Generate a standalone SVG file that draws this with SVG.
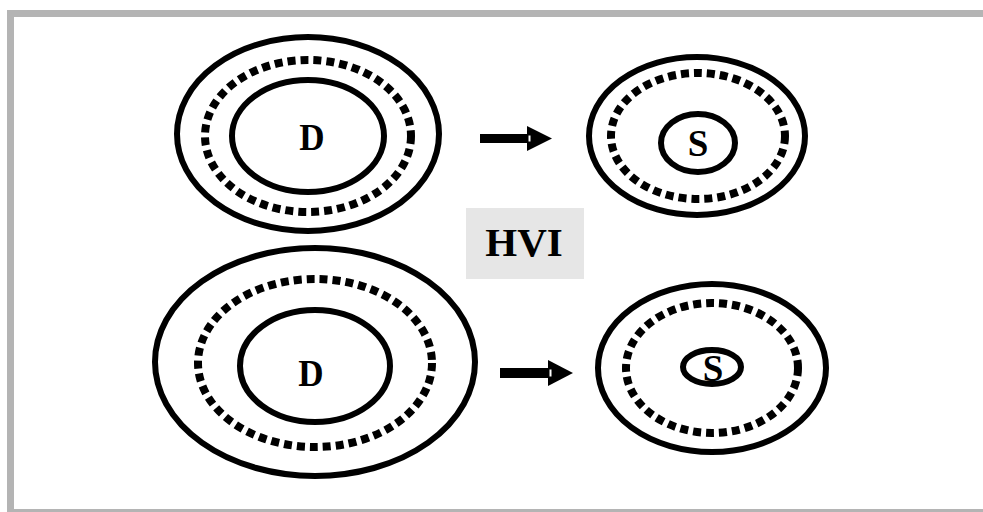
<svg xmlns="http://www.w3.org/2000/svg" width="983" height="512" viewBox="0 0 983 512">
<style>
.solid{fill:none;stroke:#000;stroke-width:6}
.dash{fill:none;stroke:#000;stroke-width:8;stroke-dasharray:8 5}
.lbl{font-family:"Liberation Serif","Times New Roman",serif;font-weight:bold;fill:#000;text-anchor:middle}
</style>
<rect x="0" y="0" width="983" height="512" fill="#fff"/>
<g id="frame" fill="#b4b4b4">
<rect x="7" y="10" width="976" height="7"/>
<rect x="7" y="10" width="7" height="502"/>
<rect x="7" y="509" width="976" height="3"/>
</g>
<g id="D1">
<ellipse class="solid" cx="308" cy="134" rx="131" ry="97"/>
<ellipse class="dash" cx="308" cy="136" rx="103" ry="76"/>
<ellipse class="solid" cx="308" cy="136" rx="76" ry="56"/>
<text class="lbl" x="312" y="150" font-size="39" transform="translate(312 150) scale(0.9 1) translate(-312 -150)">D</text>
</g>
<g id="S1">
<ellipse class="solid" cx="697" cy="136" rx="108" ry="79"/>
<ellipse class="dash" cx="698" cy="136" rx="87" ry="63"/>
<ellipse class="solid" cx="698" cy="143" rx="37" ry="29"/>
<text class="lbl" x="698" y="156" font-size="37">S</text>
</g>
<g id="D2">
<ellipse class="solid" cx="315" cy="362" rx="160" ry="114"/>
<ellipse class="dash" cx="315" cy="363" rx="117" ry="84"/>
<ellipse class="solid" cx="315" cy="366" rx="75" ry="56"/>
<text class="lbl" x="311" y="386" font-size="39" transform="translate(311 386) scale(0.9 1) translate(-311 -386)">D</text>
</g>
<g id="S2">
<ellipse class="solid" cx="712" cy="368" rx="114" ry="84"/>
<ellipse class="dash" cx="712" cy="368" rx="86" ry="65"/>
<ellipse class="solid" cx="712" cy="367" rx="29" ry="17"/>
<text class="lbl" x="713" y="381" font-size="37">S</text>
</g>
<g id="HVI">
<rect x="466" y="208" width="118" height="71" fill="#e6e6e6"/>
<text class="lbl" x="524" y="256" font-size="41">HVI</text>
</g>
<g id="connectors">
<rect x="480" y="134" width="47" height="9" fill="#000"/>
<polygon points="527,126 552,138.5 527,151" fill="#000"/>
<rect x="528.5" y="135.5" width="2" height="6" fill="#fff"/>
<rect x="500" y="368" width="48" height="10" fill="#000"/>
<polygon points="548,360 573,373 548,386" fill="#000"/>
<rect x="549.5" y="369.5" width="2" height="7" fill="#fff"/>
</g>
</svg>
